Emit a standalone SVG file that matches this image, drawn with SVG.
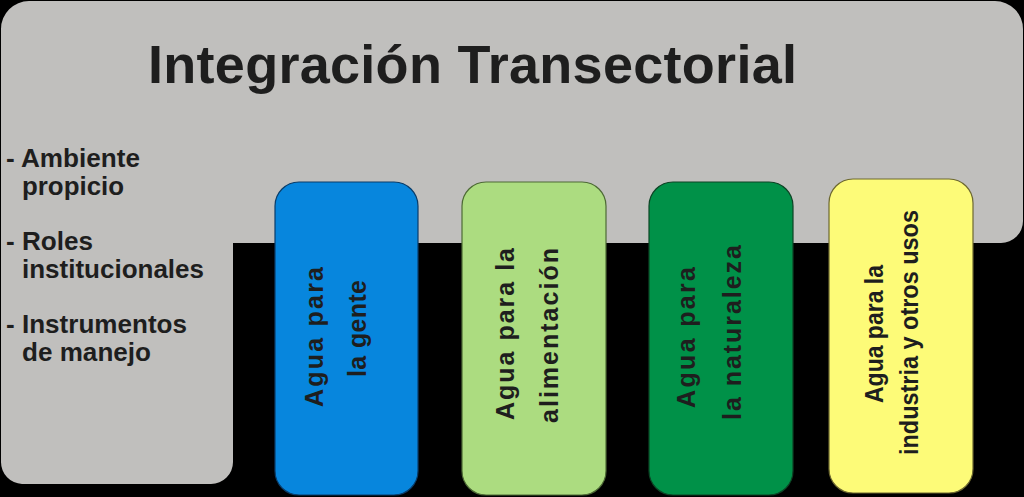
<svg xmlns="http://www.w3.org/2000/svg" width="1024" height="497" viewBox="0 0 1024 497">
<style>
.t{font-family:"Liberation Sans",Arial,sans-serif;font-weight:bold;fill:#1e1e1e}
.side{font-size:25px}
.v{font-size:25px;text-anchor:middle}
.box{stroke-width:1.2}
</style>
<rect width="1024" height="497" fill="#000"/>
<g id="integracion">
<path d="M29 1 H995 A28 28 0 0 1 1023 29 V221 A22 22 0 0 1 1001 243 H233 V462 A22 22 0 0 1 211 484 H22 A22 22 0 0 1 1 462 V29 A28 28 0 0 1 29 1 Z" fill="#c0bfbd"/>
<text class="t" x="148" y="83" font-size="54" textLength="649" lengthAdjust="spacing">Integración Transectorial</text>
<text class="t side" x="6" y="167" textLength="134" lengthAdjust="spacingAndGlyphs">- Ambiente</text>
<text class="t side" x="22" y="195" textLength="102" lengthAdjust="spacingAndGlyphs">propicio</text>
<text class="t side" x="6" y="250" textLength="87" lengthAdjust="spacingAndGlyphs">- Roles</text>
<text class="t side" x="22" y="278" textLength="182" lengthAdjust="spacingAndGlyphs">institucionales</text>
<text class="t side" x="6" y="333" textLength="181" lengthAdjust="spacingAndGlyphs">- Instrumentos</text>
<text class="t side" x="22" y="361" textLength="129" lengthAdjust="spacingAndGlyphs">de manejo</text>
</g>
<g id="gente">
<rect class="box" x="275" y="182" width="143" height="313" rx="24" fill="#0786dd" stroke="#0a3d6a"/>
<text class="t v" transform="translate(323 337) rotate(-90)" textLength="140" lengthAdjust="spacing">Agua para</text>
<text class="t v" transform="translate(366 328.5) rotate(-90)" textLength="97" lengthAdjust="spacing">la gente</text>
</g>
<g id="alimentacion">
<rect class="box" x="462" y="182" width="144" height="313" rx="24" fill="#acdc80" stroke="#4d6a35"/>
<text class="t v" transform="translate(514 334) rotate(-90)" textLength="172" lengthAdjust="spacing">Agua para la</text>
<text class="t v" transform="translate(558 335.5) rotate(-90)" textLength="175" lengthAdjust="spacing">alimentación</text>
</g>
<g id="naturaleza">
<rect class="box" x="649" y="182" width="144" height="313" rx="24" fill="#009148" stroke="#0c4425"/>
<text class="t v" transform="translate(695 337.5) rotate(-90)" textLength="141" lengthAdjust="spacing">Agua para</text>
<text class="t v" transform="translate(741 332.5) rotate(-90)" textLength="175" lengthAdjust="spacing">la naturaleza</text>
</g>
<g id="industria">
<rect class="box" x="829" y="179" width="144" height="314" rx="24" fill="#fdfb78" stroke="#6d6830"/>
<text class="t v" transform="translate(883 334) rotate(-90)" font-size="24" textLength="138" lengthAdjust="spacingAndGlyphs">Agua para la</text>
<text class="t v" transform="translate(918 332.5) rotate(-90)" font-size="24" textLength="245" lengthAdjust="spacingAndGlyphs">industria y otros usos</text>
</g>
<g id="connectors"></g>
</svg>
